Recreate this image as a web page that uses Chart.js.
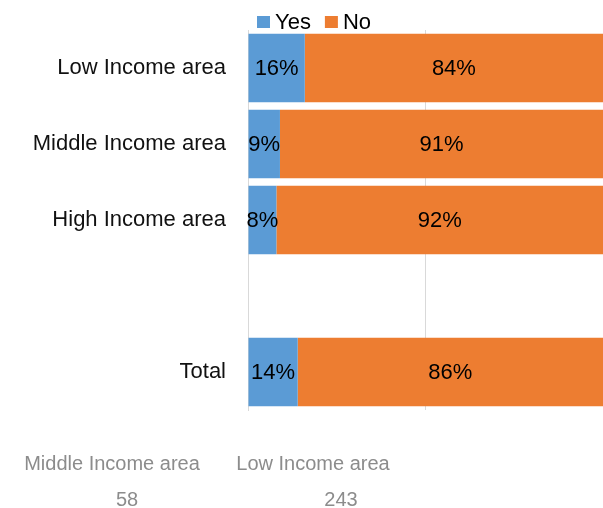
<!DOCTYPE html>
<html>
<head>
<meta charset="utf-8">
<script src="https://cdn.jsdelivr.net/npm/chart.js@4"></script>
<style>
html,body{margin:0;padding:0;background:#fff;}
#wrap{width:603px;height:508px;position:relative;}
</style>
</head>
<body>
<div id="wrap"><canvas id="c" width="603" height="508"></canvas></div>
<script>
const categories = ["Low Income area", "Middle Income area", "High Income area", "", "Total"];
const yesValues = [16, 9, 8, null, 14];
const noValues = [84, 91, 92, null, 86];
const seriesNames = ["Yes", "No"];
const seriesColors = ["#5b9bd5", "#ed7d31"];
const xTicks = [0, 50, 100];
const footerLabels = ["Middle Income area", "Low Income area"];
const footerCounts = ["58", "243"];

const FONT = "'Liberation Sans', Arial, sans-serif";

const valueLabels = {
  id: 'valueLabels',
  afterDatasetsDraw(chart) {
    const ctx = chart.ctx;
    ctx.save();
    ctx.font = "22px " + FONT;
    ctx.fillStyle = "#000";
    ctx.textAlign = "center";
    ctx.textBaseline = "middle";
    chart.data.datasets.forEach((ds, i) => {
      const meta = chart.getDatasetMeta(i);
      meta.data.forEach((bar, j) => {
        const v = ds.data[j];
        if (v == null) return;
        const x = (bar.x + bar.base) / 2;
        ctx.fillText(v + "%", x, bar.y + 1);
      });
    });
    ctx.restore();
  }
};

const customLegend = {
  id: 'customLegend',
  afterDraw(chart) {
    const ctx = chart.ctx;
    ctx.save();
    ctx.font = "22px " + FONT;
    ctx.textBaseline = "middle";
    ctx.textAlign = "left";
    let x = 257;
    const y = 22;
    seriesNames.forEach((name, i) => {
      ctx.fillStyle = seriesColors[i];
      ctx.fillRect(x, y - 6, 13, 12);
      x += 13 + 5;
      ctx.fillStyle = "#000";
      ctx.fillText(name, x, y + 1);
      x += ctx.measureText(name).width + 14;
    });
    ctx.restore();
  }
};

const footer = {
  id: 'footer',
  afterDraw(chart) {
    const ctx = chart.ctx;
    ctx.save();
    ctx.font = "20px " + FONT;
    ctx.fillStyle = "#8c8c8c";
    ctx.textAlign = "center";
    ctx.textBaseline = "middle";
    const xs = [112, 313];
    const xs2 = [127, 341];
    footerLabels.forEach((t, i) => ctx.fillText(t, xs[i], 464));
    footerCounts.forEach((t, i) => ctx.fillText(t, xs2[i], 500));
    ctx.restore();
  }
};

new Chart(document.getElementById('c'), {
  type: 'bar',
  data: {
    labels: categories,
    datasets: [
      { label: seriesNames[0], data: yesValues, backgroundColor: seriesColors[0], borderWidth: 0 },
      { label: seriesNames[1], data: noValues, backgroundColor: seriesColors[1], borderWidth: 0 }
    ]
  },
  options: {
    indexAxis: 'y',
    responsive: false,
    animation: false,
    devicePixelRatio: 1,
    layout: { padding: { top: 30, bottom: 98, left: 0, right: 0 } },
    datasets: { bar: { categoryPercentage: 0.9, barPercentage: 1.0 } },
    plugins: {
      legend: { display: false },
      tooltip: { enabled: false }
    },
    scales: {
      x: {
        stacked: true,
        min: 0,
        max: 100,
        afterBuildTicks(axis) { axis.ticks = xTicks.map(v => ({ value: v })); },
        ticks: { display: false },
        grid: { color: '#d9d9d9', lineWidth: 1, drawTicks: false },
        border: { display: false }
      },
      y: {
        stacked: true,
        afterFit(axis) { axis.width = 248; axis.paddingTop = 0; axis.paddingBottom = 0; },
        grid: { display: false, drawTicks: false },
        border: { display: true, color: '#d9d9d9' },
        ticks: { font: { size: 22, family: FONT }, color: '#111', padding: 22 }
      }
    }
  },
  plugins: [valueLabels, customLegend, footer]
});
</script>
</body>
</html>
